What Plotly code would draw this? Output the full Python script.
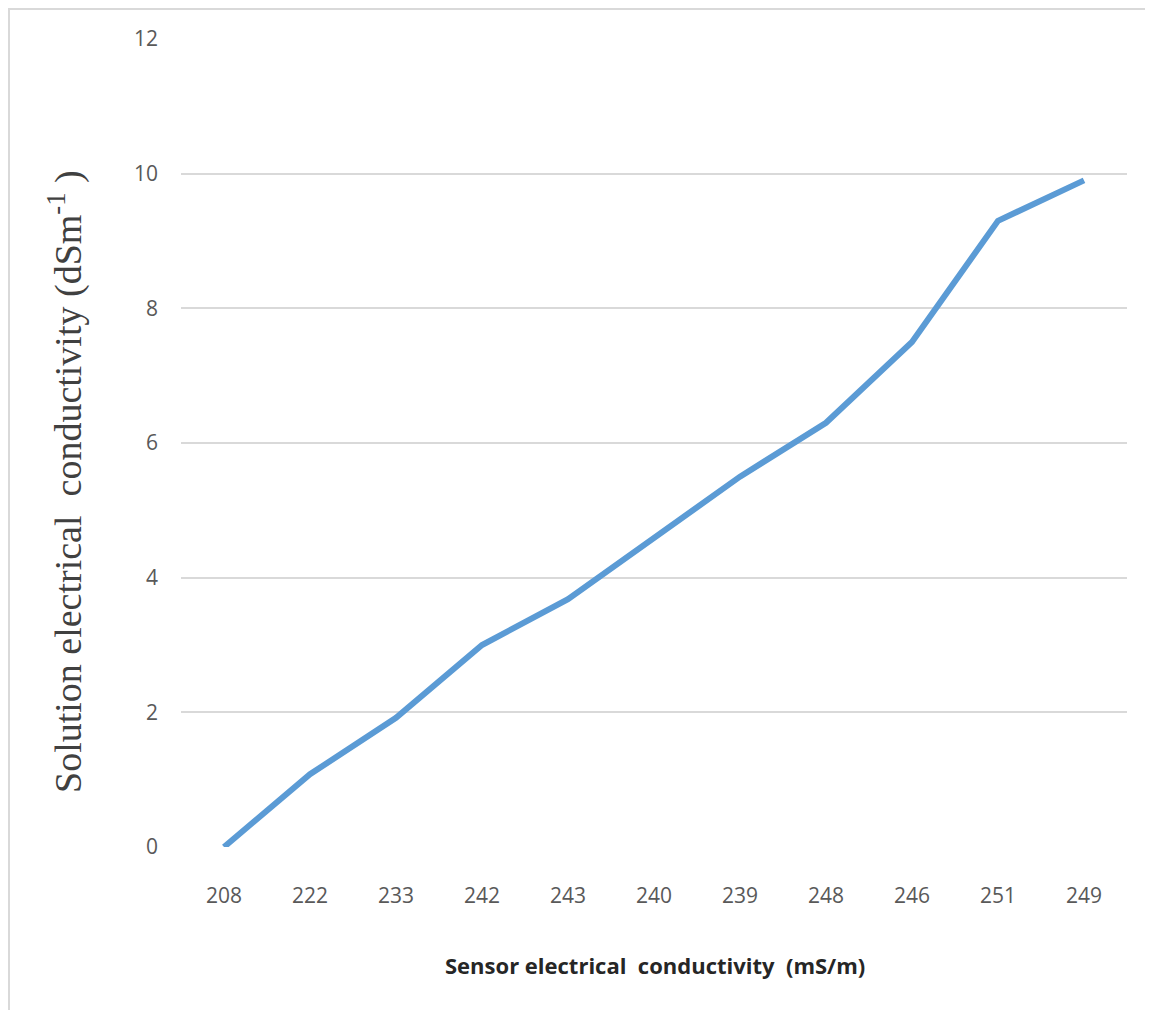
import plotly.graph_objects as go

categories = ["208", "222", "233", "242", "243", "240", "239", "248", "246", "251", "249"]
solution_ec = [0, 1.08, 1.92, 3.0, 3.68, 4.6, 5.5, 6.3, 7.5, 9.3, 9.9]
y_ticks = [0, 2, 4, 6, 8, 10, 12]

OFF = 8  # page body margin
W, H = 1153 - OFF, 1010 - OFF
L, R, T, B = 181 - OFF, 1127 - OFF, 39 - OFF, 847 - OFF


def px(xp):
    return (xp - OFF - L) / (R - L)


def py(yp):
    return (B - (yp - OFF)) / (B - T)


fig = go.Figure()
fig.add_trace(go.Scatter(
    x=categories, y=solution_ec, mode="lines",
    line=dict(color="#5b9bd5", width=6),
    showlegend=False,
))

fig.update_layout(
    width=W, height=H,
    margin=dict(l=L, r=W - R, t=T, b=H - B, pad=0),
    paper_bgcolor="white", plot_bgcolor="white",
    font=dict(family="Open Sans", color="#595959", size=21),
    xaxis=dict(
        type="category", showgrid=False, zeroline=False, showline=False,
        ticks="", ticklabelstandoff=34,
        tickfont=dict(family="Open Sans", size=21, color="#595959"),
        range=[-0.5, len(categories) - 0.5],
    ),
    yaxis=dict(
        range=[0, 12], tickvals=y_ticks, showgrid=True,
        gridcolor="#d9d9d9", gridwidth=1.5, zeroline=False, showline=False,
        ticks="", ticklabelstandoff=22,
        tickfont=dict(family="Open Sans", size=21, color="#595959"),
    ),
    shapes=[dict(type="rect", xref="paper", yref="paper",
                 x0=(1 - L) / (R - L), x1=(W + 20 - L) / (R - L),
                 y0=(B - H - 20) / (B - T), y1=(B - 1) / (B - T),
                 line=dict(color="#d9d9d9", width=2), fillcolor="rgba(0,0,0,0)",
                 layer="below")],
    annotations=[
        dict(text="Sensor electrical  conductivity  (mS/m)",
             xref="paper", yref="paper",
             x=px(655), y=py(965),
             showarrow=False, xanchor="center", yanchor="middle",
             font=dict(family="Open Sans", size=22, color="#262626", weight="bold")),
        dict(text="Solution electrical  conductivity (dSm<sup>-1</sup> )",
             xref="paper", yref="paper",
             x=px(66), y=py(482),
             showarrow=False, xanchor="center", yanchor="middle", textangle=-90,
             font=dict(family="Liberation Serif", size=38, color="#404040")),
    ],
)

fig.write_html("out.html")
